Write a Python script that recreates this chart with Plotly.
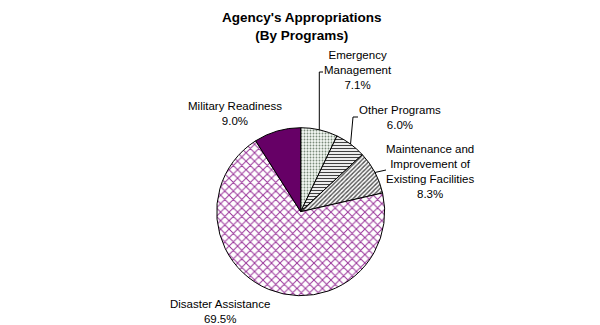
import math
import plotly.graph_objects as go

W, H = 600, 325

labels = ["Emergency Management", "Other Programs", "Maintenance and Improvement of Existing Facilities",
          "Disaster Assistance", "Military Readiness"]
label_text = ["Emergency<br>Management<br>7.1%", "Other Programs<br>6.0%",
              "Maintenance and<br>Improvement of<br>Existing Facilities<br>8.3%",
              "Disaster Assistance<br>69.5%", "Military Readiness<br>9.0%"]
values = [7.1, 6.0, 8.3, 69.5, 9.0]
colors = ["#f2f8f2", "#ffffff", "#ffffff", "#ffffff", "#660066"]
shapes_pat = [".", "-", "/", "x", ""]
fgcolors = ["#7a8a7a", "#404040", "#505050", "#993399", "#660066"]
pat_sizes = [3, 3, 3, 6, 8]
pat_solid = [0.3, 0.4, 0.45, 0.3, 0.3]

# label block centres (px) and leader-line bend points (px)
label_pos = [(358, 70.5), (400, 117), (430, 171), (220, 311.5), (235, 113)]
leader_bends = [[("edge", 72), (323, 72)], [(353, 117), (358, 117)], [(386, 170)], None, None]

cx, cy, R = 300.7, 211.7, 84.0


def px(x, y):
    return x / W, 1 - y / H


fig = go.Figure(go.Pie(
    labels=labels, values=values, sort=False, direction="clockwise", rotation=0,
    textinfo="none", hoverinfo="label+percent", showlegend=False,
    marker=dict(colors=colors, line=dict(color="black", width=1),
                pattern=dict(shape=shapes_pat, fgcolor=fgcolors, bgcolor=colors,
                             size=pat_sizes, solidity=pat_solid, fillmode="replace")),
    domain=dict(x=[(cx - R) / W, (cx + R) / W], y=[1 - (cy + R) / H, 1 - (cy - R) / H]),
))

font = dict(family="Liberation Sans, Arial, sans-serif", size=11.5, color="black")
annotations = []
for txt, (x, y) in zip(label_text, label_pos):
    ax, ay = px(x, y)
    annotations.append(dict(x=ax, y=ay, xref="paper", yref="paper", text=txt, showarrow=False,
                            xanchor="center", yanchor="middle", align="center", font=font))

annotations.append(dict(x=px(301, 27)[0], y=px(301, 27)[1], xref="paper", yref="paper",
                        text="<b>Agency's Appropriations<br>(By Programs)</b>", showarrow=False,
                        xanchor="center", yanchor="middle", align="center",
                        font=dict(family="Liberation Sans, Arial, sans-serif", size=13.5, color="black")))

shapes = []
total = sum(values)
cum = 0.0
for v, bends in zip(values, leader_bends):
    mid = (cum + v / 2) / total * 2 * math.pi
    cum += v
    if not bends:
        continue
    ex, ey = cx + R * math.sin(mid), cy - R * math.cos(mid)
    pts = [(ex, ey)]
    for bx, by in bends:
        pts.append((ex if bx == "edge" else bx, by))
    path = "M " + " L ".join(f"{px(x, y)[0]},{px(x, y)[1]}" for x, y in pts)
    shapes.append(dict(type="path", path=path, xref="paper", yref="paper",
                       line=dict(color="black", width=1)))

fig.update_layout(width=W, height=H, margin=dict(l=0, r=0, t=0, b=0),
                  paper_bgcolor="white", plot_bgcolor="white",
                  annotations=annotations, shapes=shapes)
fig.write_html("out.html")
